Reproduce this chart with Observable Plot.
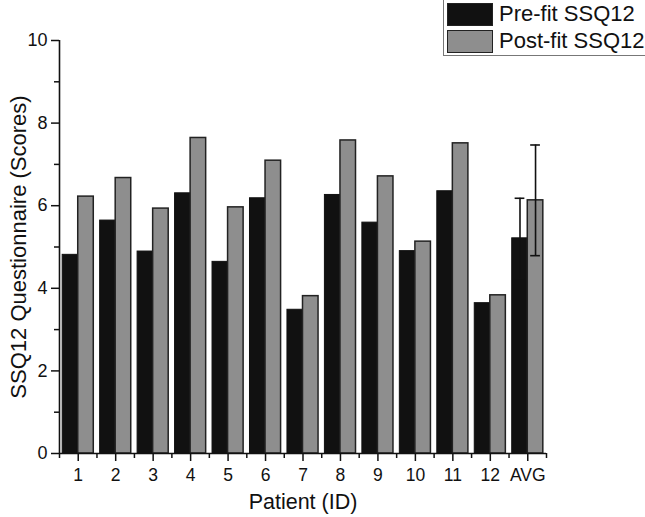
<!DOCTYPE html>
<html>
<head>
<meta charset="utf-8">
<script src="https://cdn.jsdelivr.net/npm/d3@7"></script>
<script src="https://cdn.jsdelivr.net/npm/@observablehq/plot@0.6"></script>
<style>
  html, body { margin: 0; padding: 0; background: #fff; }
  #wrap { position: relative; width: 645px; height: 517px; overflow: hidden; font-family: "Liberation Sans", Arial, sans-serif; }
  #legend { position: absolute; left: 443px; top: -2px; width: 210px; height: 58px; border: 1.5px solid #777; background: #fff; box-sizing: border-box; }
  .item { position: absolute; left: 3px; height: 24px; display: flex; align-items: center; }
  .sw { width: 46px; height: 23px; box-sizing: border-box; border: 1.5px solid #222; margin-right: 6px; }
  .lab { font-size: 22px; color: #111; white-space: nowrap; }
  #chart svg text { fill: #111; }
</style>
</head>
<body>
<div id="wrap">
  <div id="chart"></div>
  <div id="legend"></div>
</div>
<script>
// ---- data ----
const patients = ["1","2","3","4","5","6","7","8","9","10","11","12","AVG"];
const preFit  = [4.81, 5.64, 4.89, 6.30, 4.64, 6.18, 3.48, 6.26, 5.59, 4.90, 6.35, 3.64, 5.21];
const postFit = [6.22, 6.67, 5.93, 7.64, 5.96, 7.09, 3.81, 7.58, 6.71, 5.13, 7.51, 3.83, 6.13];
const avgErrPre  = [4.23, 6.18];   // low, high
const avgErrPost = [4.79, 7.47];
const seriesNames = ["Pre-fit SSQ12", "Post-fit SSQ12"];
const seriesColors = ["#111111", "#8e8e8e"];
const yMajorTicks = [0, 2, 4, 6, 8, 10];
const yMinorTicks = [1, 3, 5, 7, 9];

// ---- derived tables ----
const barW = 0.415; // bar width in category units
const rows = patients.map((p, i) => ({ idx: i + 1, name: p, pre: preFit[i], post: postFit[i] }));
const errs = [
  { x: patients.length - barW / 2, lo: avgErrPre[0], hi: avgErrPre[1] },
  { x: patients.length + barW / 2, lo: avgErrPost[0], hi: avgErrPost[1] }
];
const capHalf = 0.13;
const idxTicks = rows.map(d => d.idx);
const boundaryTicks = d3.range(0, patients.length + 1).map(k => k + 0.5);

const font = "'Liberation Sans', Arial, sans-serif";

const chart = Plot.plot({
  width: 645,
  height: 517,
  marginLeft: 59,
  marginRight: 99,
  marginTop: 40,
  marginBottom: 64,
  style: { fontFamily: font, fontSize: "18px", color: "#111", background: "#fff" },
  x: { type: "linear", domain: [0.5, patients.length + 0.5] },
  y: { domain: [0, 10] },
  marks: [
    Plot.rectY(rows, { x1: d => d.idx - barW, x2: d => d.idx, y1: 0, y2: "pre",
      fill: seriesColors[0], stroke: "#111", strokeWidth: 1 }),
    Plot.rectY(rows, { x1: d => d.idx, x2: d => d.idx + barW, y1: 0, y2: "post",
      fill: seriesColors[1], stroke: "#222", strokeWidth: 1.5 }),
    Plot.ruleX(errs, { x: "x", y1: "lo", y2: "hi", stroke: "#111", strokeWidth: 1.6 }),
    Plot.ruleY(errs, { y: "hi", x1: d => d.x - capHalf, x2: d => d.x + capHalf, stroke: "#111", strokeWidth: 1.6 }),
    Plot.ruleY(errs, { y: "lo", x1: d => d.x - capHalf, x2: d => d.x + capHalf, stroke: "#111", strokeWidth: 1.6 }),
    Plot.ruleY([0], { stroke: "#111", strokeWidth: 1.6 }),
    Plot.ruleX([0.5], { y1: 0, y2: 10, stroke: "#111", strokeWidth: 1.6 }),
    Plot.axisY({ ticks: yMajorTicks, tickSize: 8, tickPadding: 4, strokeWidth: 1.5,
      label: "SSQ12 Questionnaire (Scores)", labelAnchor: "center", labelArrow: "none", labelOffset: 49 }),
    Plot.axisY({ ticks: yMinorTicks, tickSize: 5, strokeWidth: 1.5, tickFormat: () => "", label: null }),
    Plot.axisX({ ticks: idxTicks, tickFormat: d => patients[d - 1], tickSize: 8, tickPadding: 7, strokeWidth: 1.5,
      label: "Patient (ID)", labelAnchor: "center", labelArrow: "none", labelOffset: 55 }),
    Plot.axisX({ ticks: boundaryTicks, tickSize: 5, strokeWidth: 1.5, tickFormat: () => "", label: null })
  ]
});
// font sizes of the axis texts
chart.querySelectorAll("g[aria-label]").forEach(g => {
  const a = g.getAttribute("aria-label");
  let fs = null;
  if (a === "y-axis label") fs = "22px";
  else if (a === "x-axis label") fs = "21.5px";
  else if (a.startsWith("y-axis tick label")) fs = "18px";
  else if (a.startsWith("x-axis tick label")) fs = "17.5px";
  if (fs) {
    g.style.fontSize = fs;
    g.querySelectorAll("text").forEach(t => { t.style.fontSize = fs; });
  }
});
document.getElementById("chart").appendChild(chart);

// legend
const legend = document.getElementById("legend");
seriesNames.forEach((name, i) => {
  const item = document.createElement("div");
  item.className = "item";
  item.style.top = (3 + i * 27) + "px";
  const sw = document.createElement("div");
  sw.className = "sw";
  sw.style.background = seriesColors[i];
  const lab = document.createElement("span");
  lab.className = "lab";
  lab.textContent = name;
  item.appendChild(sw);
  item.appendChild(lab);
  legend.appendChild(item);
});
</script>
</body>
</html>
